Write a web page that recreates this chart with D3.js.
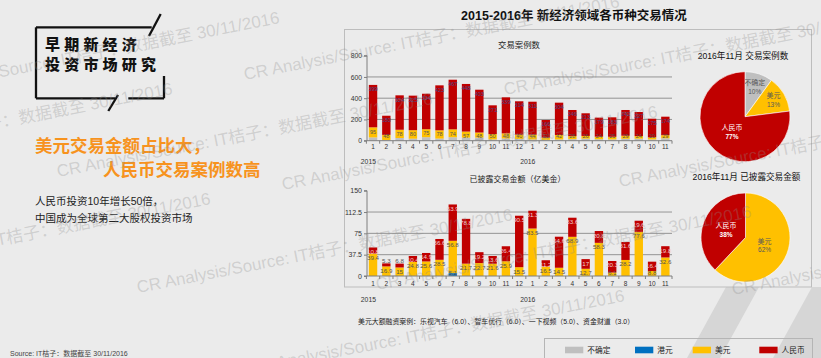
<!DOCTYPE html>
<html><head><meta charset="utf-8">
<script src="https://cdn.jsdelivr.net/npm/d3@7/dist/d3.min.js"></script>
<style>
html,body{margin:0;padding:0;background:#ebebeb;}
svg{display:block;font-family:"Liberation Sans","Noto Sans CJK SC",sans-serif;}
</style></head><body>
<svg id="c" width="821" height="358"></svg>
<script>
// ---------------- data ----------------
const months = ["1","2","3","4","5","6","7","8","9","10","11","12","1","2","3","4","5","6","7","8","9","10","11"];
const years = ["2015","2016"];
const yearStartIndex = [0, 12];
const currencies = ["不确定","港元","美元","人民币"];
const currencyColors = ["#bfbfbf","#0070c0","#ffc000","#c00000"];

// 交易案例数
const countOther = [31,7,25,19,33,20,33,29,29,12,21,17,12,8,12,15,19,14,12,18,19,12,23];
const countHKD   = [0,0,0,0,0,0,0,0,0,0,0,0,0,0,0,0,0,0,0,0,0,0,0];
const countUSD   = [95,48,78,80,75,78,74,57,48,50,48,40,44,21,42,28,26,24,25,29,24,20,29];
const countRMB   = [399,180,324,325,334,423,467,448,403,271,339,314,311,166,304,246,213,179,183,242,227,175,174];
const countTicks = [0,200,400,600,800];

// 已披露交易金额（亿美金）
const amtOther = [0,0,0,0,0,0,0,0,0,0,0,0,0,0,0,0,0,0,0,0,0,0,0];
const amtHKD   = [0,0,0,0,0,0,5.1,0,0,0,0,0,0,0,0,0,0,0,0,0,0,0,0];
const amtUSD   = [39.4,16.9,15,24.8,25.6,28.5,56.8,21.7,22.7,21.6,25.9,15.5,83.5,16.5,14.5,68.9,12.7,58.3,6.1,28.2,77.6,8.8,32.6];
const amtRMB   = [10.8,5.3,6.8,10.4,14.9,36.6,63.9,78.8,19.2,13.6,26.4,90.5,31.3,11.2,54.6,33.6,17.0,20.8,20.3,31.6,19.6,16.4,19.8];
const amtTicks = [0,37.5,75,112.5,150];

// 2016年11月 pies (%)
const pieCountShare  = [10,0,13,77];
const pieAmountShare = [0,0,62,38];

const mainTitle = "2015-2016年  新经济领域各币种交易情况";
const countTitle = "交易案例数";
const amountTitle = "已披露交易金额（亿美金）";
const pieCountTitle = "2016年11月 交易案例数";
const pieAmountTitle = "2016年11月 已披露交易金额";
const noteText = "美元大额融资案例：乐视汽车（6.0）、智车优行（6.0）、一下视频（5.0）、资金财道（3.0）";
const watermark = "CR Analysis/Source: IT桔子：数据截至 30/11/2016";

// ---------------- drawing ----------------
const svg = d3.select("#c");
svg.append("rect").attr("width",821).attr("height",358).attr("fill","#ebebeb");

// decorative diagonal bands
[[[726,287],[759,287],[720,358],[687,358]],[[812,287],[860,287],[821,358],[773,358]]].forEach(p=>{
  svg.append("polygon").attr("points",p.map(d=>d.join(",")).join(" ")).attr("fill","#d6d6d6");
});

// ---------- left panel ----------
const lp = svg.append("g");
const frame = [[36,27.3,151.7,27.3],[160.7,14,149,36],[36,27.3,36,98.3],[36,98.3,115,98.3],[118,95,108.3,111],[128.3,98.3,164,98.3],[164,76,164,98.3]];
frame.forEach(s=>lp.append("line").attr("x1",s[0]).attr("y1",s[1]).attr("x2",s[2]).attr("y2",s[3]).attr("stroke","#111").attr("stroke-width",2.3));
lp.append("text").attr("x",45).attr("y",50).attr("font-size",15).attr("font-weight",900).attr("letter-spacing",4.2).attr("fill","#111").attr("font-family","Noto Sans CJK SC").text("早期新经济");
lp.append("text").attr("x",45).attr("y",69.5).attr("font-size",15).attr("font-weight",900).attr("letter-spacing",4.2).attr("fill","#111").attr("font-family","Noto Sans CJK SC").text("投资市场研究");
lp.append("text").attr("x",35).attr("y",151.5).attr("font-size",17.5).attr("font-weight","bold").attr("fill","#f7931e").attr("font-family","Noto Sans CJK SC").text("美元交易金额占比大，");
lp.append("text").attr("x",103).attr("y",175.5).attr("font-size",17.5).attr("font-weight","bold").attr("fill","#f7931e").attr("font-family","Noto Sans CJK SC").text("人民币交易案例数高");
lp.append("text").attr("x",35).attr("y",204.5).attr("font-size",10.5).attr("fill","#222").text("人民币投资10年增长50倍，");
lp.append("text").attr("x",35).attr("y",221.5).attr("font-size",10.5).attr("fill","#222").text("中国成为全球第二大股权投资市场");
lp.append("text").attr("x",10).attr("y",356).attr("font-size",7).attr("fill","#444").text("Source: IT桔子：数据截至 30/11/2016");

// ---------- panel ----------
svg.append("rect").attr("x",344.5).attr("y",29.5).attr("width",467).attr("height",257.5).attr("fill","none").attr("stroke","#bdbdbd").attr("stroke-width",1);
svg.append("text").attr("x",574).attr("y",20).attr("text-anchor","middle").attr("font-size",12.5).attr("font-weight","bold").attr("fill","#111").text(mainTitle);

const x = d3.scaleBand().domain(d3.range(months.length)).range([366.4,672]).paddingInner(0.37).paddingOuter(0.185);
const boundary = i => x.range()[0] + i*x.step();

function barChart(cfg){
  const g = svg.append("g");
  const y = cfg.y;
  const y0 = y(0);
  // grid
  cfg.ticks.slice(1,-1).forEach(t=>{
    g.append("line").attr("x1",367).attr("x2",672).attr("y1",y(t)).attr("y2",y(t)).attr("stroke","#8a8a8a").attr("stroke-width",0.9);
  });
  // stacked bars
  const rows = months.map((m,i)=>({i, o:cfg.series[0][i], h:cfg.series[1][i], u:cfg.series[2][i], r:cfg.series[3][i]}));
  const stack = d3.stack().keys(["o","h","u","r"])(rows);
  stack.forEach((layer,k)=>{
    g.selectAll(null).data(layer).join("rect")
      .attr("x",d=>x(d.data.i)).attr("width",x.bandwidth())
      .attr("y",d=>y(d[1])).attr("height",d=>Math.max(0,y(d[0])-y(d[1])))
      .attr("fill",currencyColors[k]);
  });
  // labels
  stack.forEach((layer,k)=>{
    if(!cfg.labelKeys.includes(k)) return;
    layer.forEach(d=>{
      const v = d[1]-d[0];
      if(v<=0) return;
      const segH = y(d[0])-y(d[1]);
      let ly = Math.min(y(d[1])+cfg.labelOff, y0-cfg.floorGap);
      let col = cfg.labelColors[k];
      if(k===3 && segH<5){ ly = y(d[1])-0.8; col = "#555"; }
      g.append("text").attr("x",x(d.data.i)+x.bandwidth()/2).attr("y",ly)
        .attr("text-anchor","middle").attr("font-size",cfg.labelSize)
        .attr("fill",col).text(cfg.fmt(v));
    });
  });
  // y axis
  const ax = g.append("g").attr("transform","translate(367,0)")
    .call(d3.axisLeft(y).tickValues(cfg.ticks).tickSize(3).tickPadding(2).tickFormat(d=>d));
  ax.select(".domain").attr("stroke","#7f7f7f").attr("d",`M-3,${y(cfg.ticks[cfg.ticks.length-1])}H0V${y0}H-3`);
  ax.selectAll(".tick line").attr("stroke","#7f7f7f");
  ax.selectAll(".tick text").attr("font-size",cfg.axisSize).attr("fill","#333").attr("font-family","Liberation Sans");
  // x axis
  g.append("line").attr("x1",367).attr("x2",672).attr("y1",y0).attr("y2",y0).attr("stroke","#7f7f7f");
  d3.range(months.length+1).forEach(i=>{
    g.append("line").attr("x1",boundary(i)).attr("x2",boundary(i)).attr("y1",y0).attr("y2",y0+3).attr("stroke","#7f7f7f");
  });
  months.forEach((m,i)=>{
    g.append("text").attr("x",x(i)+x.bandwidth()/2).attr("y",cfg.monthY).attr("text-anchor","middle")
      .attr("font-size",6.5).attr("fill","#333").text(m);
  });
  years.forEach((yr,k)=>{
    g.append("text").attr("x",boundary(yearStartIndex[k])+2).attr("y",cfg.yearY).attr("text-anchor","middle")
      .attr("font-size",6.8).attr("fill","#333").text(yr);
  });
  g.append("text").attr("x",cfg.titleX).attr("y",cfg.titleY).attr("text-anchor","middle").attr("font-size",cfg.titleSize).attr("fill","#222").text(cfg.title);
}

barChart({
  y: d3.scaleLinear().domain([0,800]).range([140.7,55.7]),
  ticks: countTicks,
  series: [countOther,countHKD,countUSD,countRMB],
  labelKeys: [2,3], labelOff: 6.2, labelSize: 5.5, floorGap: 2.4,
  labelColors: ["#555","#555","#555","#4b4b8a"],
  fmt: v=>String(Math.round(v)),
  axisSize: 6.8, monthY: 149, yearY: 164,
  title: countTitle, titleX: 519, titleY: 48, titleSize: 8.4
});
barChart({
  y: d3.scaleLinear().domain([0,150]).range([276,190.7]),
  ticks: amtTicks,
  series: [amtOther,amtHKD,amtUSD,amtRMB],
  labelKeys: [1,2,3], labelOff: 6.5, labelSize: 6.2, floorGap: 1.5,
  labelColors: ["#555","#555","#555","#f0d2d2"],
  fmt: v=>String(Math.round(v*10)/10),
  axisSize: 7, monthY: 286, yearY: 302,
  title: amountTitle, titleX: 517.5, titleY: 182, titleSize: 8
});

// ---------- pies ----------
function pieChart(cfg){
  const g = svg.append("g").attr("transform",`translate(${cfg.cx},${cfg.cy})`);
  const arcs = d3.pie().sort(null).value(d=>d)(cfg.values);
  const arc = d3.arc().innerRadius(0).outerRadius(cfg.r);
  g.selectAll(null).data(arcs).join("path").attr("d",arc).attr("fill",(d,i)=>currencyColors[i])
    .attr("stroke","#fff").attr("stroke-width",d=>d.value>0?0.6:0);
  arcs.forEach((d,i)=>{
    if(d.value<=0) return;
    const rr = cfg.r*cfg.labelFrac[i];
    const c = d3.arc().innerRadius(rr).outerRadius(rr).centroid(d);
    const col = i===3 ? "#fff" : "#595959";
    g.append("text").attr("x",c[0]).attr("y",c[1]-1.5).attr("text-anchor","middle").attr("font-size",7).attr("fill",col).text(currencies[i]);
    g.append("text").attr("x",c[0]).attr("y",c[1]+7).attr("text-anchor","middle").attr("font-size",6.5)
      .attr("font-weight",i===3?"bold":"normal").attr("fill",col).text(d.value+"%");
  });
  svg.append("text").attr("x",cfg.tx).attr("y",cfg.ty).attr("text-anchor","middle").attr("font-size",8.6).attr("fill","#111").text(cfg.title);
}
pieChart({cx:745, cy:116.7, r:45, values:pieCountShare, labelFrac:[0.7,0.7,0.735,0.44], title:pieCountTitle, tx:743, ty:59});
pieChart({cx:745.5, cy:237.5, r:44.5, values:pieAmountShare, labelFrac:[0.5,0.5,0.46,0.47], title:pieAmountTitle, tx:746.5, ty:180});

// ---------- note & legend ----------
svg.append("text").attr("x",358).attr("y",324).attr("font-size",6.9).attr("fill","#222").text(noteText);
svg.append("rect").attr("x",544.5).attr("y",338.5).attr("width",268).attr("height",30).attr("fill","none").attr("stroke","#b5b5b5");
const legX = [565,635,692.7,759.3];
currencies.forEach((c,i)=>{
  svg.append("rect").attr("x",legX[i]).attr("y",346.7).attr("width",18.3).attr("height",6.6).attr("fill",currencyColors[i]);
  svg.append("text").attr("x",legX[i]+22.3).attr("y",353).attr("font-size",7.7).attr("fill","#222").text(c);
});

// ---------- watermark ----------
const wmAnchors = [[-95,96],[-202,167],[245,80],[58,177],[505,95],[-164,277],[283,190],[138,293],[620,187],[377,290],[250,374],[733,295]];
const wm = svg.append("g").attr("pointer-events","none");
wmAnchors.forEach(p=>{
  wm.append("text").attr("x",p[0]).attr("y",p[1]).attr("transform",`rotate(-11,${p[0]},${p[1]})`)
    .attr("font-size",17).attr("fill","rgba(140,140,140,0.3)").text(watermark);
});
</script>
</body></html>
